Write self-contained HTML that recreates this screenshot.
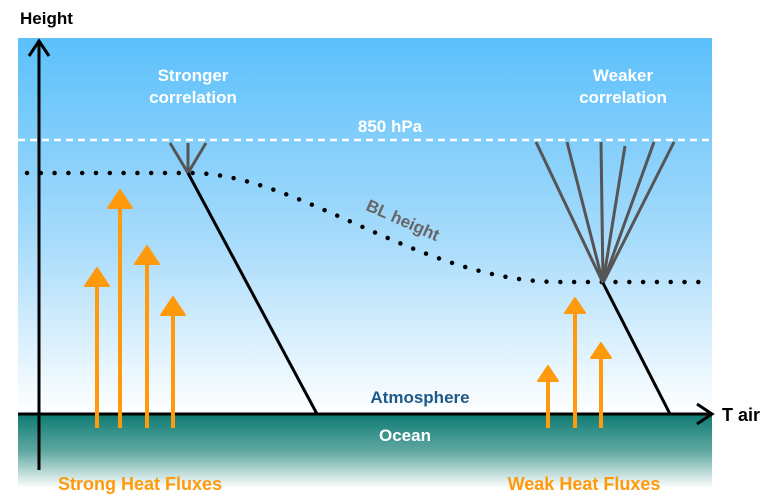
<html><head><style>body{margin:0;background:#fff}svg{display:block}text{font-family:"Liberation Sans",sans-serif;font-weight:bold}</style></head><body>
<svg width="768" height="504" viewBox="0 0 768 504">
<defs>
<linearGradient id="sky" x1="0" y1="0" x2="0" y2="1"><stop offset="0" stop-color="#5bc0fb"/><stop offset="0.55" stop-color="#a9dcfb"/><stop offset="1" stop-color="#ffffff"/></linearGradient>
<linearGradient id="sea" x1="0" y1="0" x2="0" y2="1"><stop offset="0" stop-color="#0d7a72"/><stop offset="0.5" stop-color="#5fa8a1"/><stop offset="1" stop-color="#ffffff"/></linearGradient>
</defs>
<rect x="18" y="38" width="694" height="376" fill="url(#sky)"/>
<rect x="18" y="414" width="694" height="74" fill="url(#sea)"/>
<line x1="18" y1="140" x2="712" y2="140" stroke="#fff" stroke-width="2.5" stroke-dasharray="7 5"/>
<path d="M27,173 L190,173 C300,173 420,282 560,282 L705,282" fill="none" stroke="#000" stroke-width="4.5" stroke-linecap="round" stroke-dasharray="0 13.8"/>
<g stroke="#555" stroke-width="3">
<line x1="188" y1="173" x2="170" y2="143"/><line x1="188" y1="173" x2="188" y2="143"/><line x1="188" y1="173" x2="206" y2="143"/>
<line x1="603" y1="283" x2="536" y2="142"/><line x1="603" y1="283" x2="567" y2="142"/><line x1="603" y1="283" x2="601" y2="142"/><line x1="603" y1="283" x2="625" y2="146"/><line x1="603" y1="283" x2="654" y2="142"/><line x1="603" y1="283" x2="674" y2="142"/>
</g>
<g stroke="#000" stroke-width="3">
<line x1="188" y1="173" x2="317" y2="414"/><line x1="603" y1="283" x2="670" y2="414"/>
<line x1="18" y1="414" x2="712" y2="414"/><line x1="39" y1="42" x2="39" y2="470"/>
<polyline points="29,56 39,41 49,56" fill="none"/><polyline points="697,404 712,414 697,424" fill="none"/>
</g>
<g fill="#ff9a0d" stroke="#ff9a0d" stroke-width="4">
<line x1="97" y1="285" x2="97" y2="428"/><polygon points="97,268 85,286 109,286" stroke-width="2" stroke-linejoin="round"/>
<line x1="120" y1="205" x2="120" y2="428"/><polygon points="120,190 108,208 132,208" stroke-width="2" stroke-linejoin="round"/>
<line x1="147" y1="262" x2="147" y2="428"/><polygon points="147,246 135,264 159,264" stroke-width="2" stroke-linejoin="round"/>
<line x1="173" y1="312" x2="173" y2="428"/><polygon points="173,297 161,315 185,315" stroke-width="2" stroke-linejoin="round"/>
<line x1="548" y1="380" x2="548" y2="428"/><polygon points="548,366 538,381 558,381" stroke-width="2" stroke-linejoin="round"/>
<line x1="575" y1="312" x2="575" y2="428"/><polygon points="575,298 565,313 585,313" stroke-width="2" stroke-linejoin="round"/>
<line x1="601" y1="357" x2="601" y2="428"/><polygon points="601,343 591,358 611,358" stroke-width="2" stroke-linejoin="round"/>
</g>
<text x="20" y="24" font-size="17" fill="#000">Height</text>
<text x="722" y="421" font-size="18" fill="#000">T air</text>
<g fill="#fff" font-size="17" text-anchor="middle">
<text x="193" y="81">Stronger</text><text x="193" y="103">correlation</text>
<text x="623" y="81">Weaker</text><text x="623" y="103">correlation</text>
<text x="390" y="132">850 hPa</text>
<text x="405" y="441">Ocean</text>
</g>
<text x="403" y="226" font-size="17" fill="#666" text-anchor="middle" transform="rotate(24 403 220)">BL height</text>
<text x="420" y="403" font-size="17" fill="#1d5a8a" text-anchor="middle">Atmosphere</text>
<g fill="#ff9a0d" font-size="18" text-anchor="middle">
<text x="140" y="490">Strong Heat Fluxes</text><text x="584" y="490">Weak Heat Fluxes</text>
</g>
</svg></body></html>
